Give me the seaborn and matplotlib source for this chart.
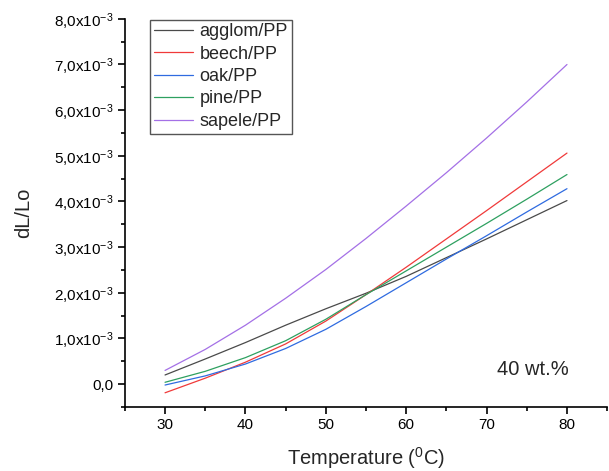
import numpy as np
import pandas as pd
import matplotlib
matplotlib.use("Agg")
import matplotlib.pyplot as plt
from matplotlib.ticker import MultipleLocator, FuncFormatter
import seaborn as sns

# temperatures (deg C) and dL/Lo values in units of 1e-3
temperature = [30, 35, 40, 45, 50, 55, 60, 65, 70, 75, 80]
agglom = [0.20, 0.55, 0.91, 1.29, 1.65, 1.99, 2.36, 2.77, 3.18, 3.60, 4.02]
beech = [-0.19, 0.13, 0.48, 0.88, 1.38, 1.96, 2.56, 3.18, 3.80, 4.43, 5.06]
oak = [-0.02, 0.18, 0.44, 0.78, 1.20, 1.70, 2.22, 2.74, 3.25, 3.77, 4.28]
pine = [0.04, 0.28, 0.58, 0.95, 1.42, 1.96, 2.48, 3.00, 3.52, 4.05, 4.59]
sapele = [0.30, 0.76, 1.29, 1.88, 2.51, 3.19, 3.90, 4.63, 5.39, 6.18, 7.00]

series_names = ["agglom/PP", "beech/PP", "oak/PP", "pine/PP", "sapele/PP"]
colors = ["#4a4a4a", "#f03a3a", "#2f6be0", "#2ea060", "#a470e6"]

rows = []
for name, vals in zip(series_names, [agglom, beech, oak, pine, sapele]):
    for t, v in zip(temperature, vals):
        rows.append({"T": t, "dL": v * 1e-3, "sample": name})
df = pd.DataFrame(rows)

sns.set_style("ticks")
plt.rcParams["font.family"] = ["Liberation Sans", "DejaVu Sans"]
plt.rcParams["mathtext.fontset"] = "custom"
plt.rcParams["mathtext.rm"] = "Liberation Sans"
plt.rcParams["mathtext.it"] = "Liberation Sans:italic"

fig = plt.figure(figsize=(6.09, 4.71), dpi=100)
ax = fig.add_axes([0.205, 0.136, 0.792, 0.824])

sns.lineplot(data=df, x="T", y="dL", hue="sample", palette=colors,
             linewidth=0.9, ax=ax)

ax.set_xlim(25, 85)
ax.set_ylim(-0.5e-3, 8.0e-3)
ax.xaxis.set_major_locator(MultipleLocator(10))
ax.xaxis.set_minor_locator(MultipleLocator(5))
ax.yaxis.set_major_locator(MultipleLocator(1e-3))
ax.yaxis.set_minor_locator(MultipleLocator(0.5e-3))


def fmt_y(v, pos):
    m = v * 1e3
    if abs(m) < 1e-9:
        return "0,0"
    return f"{m:.1f}".replace(".", ",") + r"x10$^{-3}$"


ax.yaxis.set_major_formatter(FuncFormatter(fmt_y))

for s in ["top", "right"]:
    ax.spines[s].set_visible(False)
for s in ["left", "bottom"]:
    ax.spines[s].set_linewidth(1.2)
    ax.spines[s].set_color("black")

ax.tick_params(axis="both", which="major", direction="out", length=5,
               width=1.2, labelsize=11, colors="black", pad=3)
ax.tick_params(axis="both", which="minor", direction="out", length=3,
               width=1.2, colors="black")

ax.set_xlabel(r"Temperature ($^{0}$C)", fontsize=14.5, labelpad=9.5)
ax.set_ylabel("dL/Lo", fontsize=14.5, labelpad=15)

ax.text(75.75, 0.33e-3, "40 wt.%", fontsize=14.5, ha="center", va="center")

leg = ax.legend(loc="upper left", bbox_to_anchor=(0.052, 0.998),
                borderaxespad=0, fontsize=13, handlelength=2.2,
                handletextpad=0.35, labelspacing=0.3, borderpad=0.2,
                fancybox=False, framealpha=1, edgecolor="#555555",
                title=None)
leg.get_frame().set_linewidth(1.0)

fig.savefig("out.png", dpi=100)
